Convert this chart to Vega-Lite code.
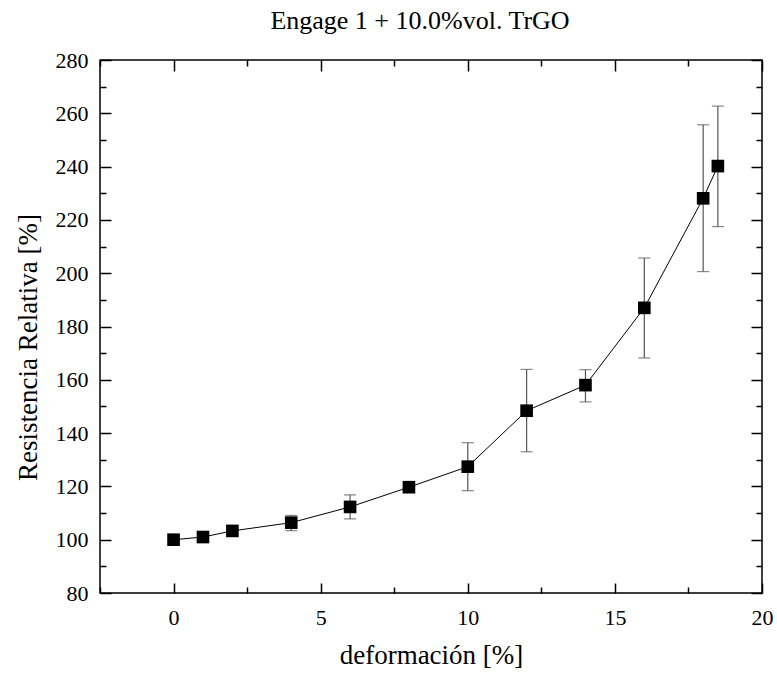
{
  "$schema": "https://vega.github.io/schema/vega-lite/v6.json",
  "width": 662,
  "height": 533,
  "autosize": "none",
  "padding": {"left": 100, "top": 60, "right": 15, "bottom": 86},
  "background": "white",
  "config": {
    "view": {"stroke": "black", "strokeWidth": 1.5},
    "font": "Liberation Serif",
    "axis": {"grid": false, "domain": false, "tickColor": "black", "tickWidth": 1.5, "labelColor": "black", "titleColor": "black", "labelFont": "Liberation Serif", "titleFont": "Liberation Serif", "labelFontSize": 22, "titleFontSize": 27, "titleFontWeight": "normal", "labelFlush": false}
  },
  "title": {"text": "Engage 1 + 10.0%vol. TrGO", "font": "Liberation Serif", "fontSize": 26, "fontWeight": "normal", "color": "black", "offset": 15, "dx": -11},
  "data": {"values": [
    {"x": 0, "y": 100, "lo": null, "hi": null},
    {"x": 1, "y": 101, "lo": null, "hi": null},
    {"x": 2, "y": 103.3, "lo": null, "hi": null},
    {"x": 4, "y": 106.4, "lo": 103.4, "hi": 109.1},
    {"x": 6, "y": 112.3, "lo": 107.8, "hi": 116.8},
    {"x": 8, "y": 119.7, "lo": null, "hi": null},
    {"x": 10, "y": 127.4, "lo": 118.4, "hi": 136.4},
    {"x": 12, "y": 148.4, "lo": 133.0, "hi": 163.9},
    {"x": 14, "y": 158.0, "lo": 151.7, "hi": 163.8},
    {"x": 16, "y": 187.0, "lo": 168.2, "hi": 205.7},
    {"x": 18, "y": 228.1, "lo": 200.6, "hi": 255.7},
    {"x": 18.5, "y": 240.2, "lo": 217.5, "hi": 262.7}
  ]},
  "resolve": {"axis": {"x": "independent", "y": "independent"}},
  "layer": [
    {
      "mark": {"type": "point", "opacity": 0},
      "encoding": {
        "x": {"field": "x", "type": "quantitative", "scale": {"domain": [-2.5, 20], "nice": false, "zero": false},
              "axis": {"orient": "bottom", "values": [0, 5, 10, 15, 20], "tickSize": -10, "labelPadding": 24, "title": "deformación [%]", "titlePadding": 14}},
        "y": {"field": "y", "type": "quantitative", "scale": {"domain": [80, 280], "nice": false, "zero": false},
              "axis": {"orient": "left", "values": [80, 100, 120, 140, 160, 180, 200, 220, 240, 260, 280], "tickSize": -11, "labelPadding": 23, "title": "Resistencia Relativa [%]", "titleX": -64, "titleY": 287, "titleBaseline": "alphabetic", "titleAngle": -90}}
      }
    },
    {
      "mark": {"type": "point", "opacity": 0},
      "encoding": {
        "x": {"field": "x", "type": "quantitative", "axis": {"orient": "bottom", "values": [-2.5, 2.5, 7.5, 12.5, 17.5], "tickSize": -6, "labels": false, "title": null}},
        "y": {"field": "y", "type": "quantitative", "axis": {"orient": "left", "values": [90, 110, 130, 150, 170, 190, 210, 230, 250, 270], "tickSize": -6, "labels": false, "title": null}}
      }
    },
    {
      "mark": {"type": "point", "opacity": 0},
      "encoding": {
        "x": {"field": "x", "type": "quantitative", "axis": {"orient": "top", "values": [0, 5, 10, 15, 20], "tickSize": -11, "labels": false, "title": null}},
        "y": {"field": "y", "type": "quantitative", "axis": {"orient": "right", "values": [80, 100, 120, 140, 160, 180, 200, 220, 240, 260, 280], "tickSize": -11, "labels": false, "title": null}}
      }
    },
    {
      "mark": {"type": "point", "opacity": 0},
      "encoding": {
        "x": {"field": "x", "type": "quantitative", "axis": {"orient": "top", "values": [-2.5, 2.5, 7.5, 12.5, 17.5], "tickSize": -6, "labels": false, "title": null}},
        "y": {"field": "y", "type": "quantitative", "axis": {"orient": "right", "values": [90, 110, 130, 150, 170, 190, 210, 230, 250, 270], "tickSize": -6, "labels": false, "title": null}}
      }
    },
    {
      "transform": [{"filter": "datum.lo != null"}],
      "mark": {"type": "rule", "color": "#555555", "strokeWidth": 1.2},
      "encoding": {
        "x": {"field": "x", "type": "quantitative", "axis": null},
        "y": {"field": "lo", "type": "quantitative", "axis": null},
        "y2": {"field": "hi"}
      }
    },
    {
      "transform": [{"filter": "datum.lo != null"}],
      "mark": {"type": "tick", "orient": "horizontal", "color": "#555555", "size": 12, "thickness": 1.2},
      "encoding": {
        "x": {"field": "x", "type": "quantitative", "axis": null},
        "y": {"field": "lo", "type": "quantitative", "axis": null}
      }
    },
    {
      "transform": [{"filter": "datum.lo != null"}],
      "mark": {"type": "tick", "orient": "horizontal", "color": "#555555", "size": 12, "thickness": 1.2},
      "encoding": {
        "x": {"field": "x", "type": "quantitative", "axis": null},
        "y": {"field": "hi", "type": "quantitative", "axis": null}
      }
    },
    {
      "mark": {"type": "line", "color": "black", "strokeWidth": 1},
      "encoding": {
        "x": {"field": "x", "type": "quantitative", "axis": null},
        "y": {"field": "y", "type": "quantitative", "axis": null}
      }
    },
    {
      "mark": {"type": "square", "color": "black", "filled": true, "opacity": 1, "size": 160},
      "encoding": {
        "x": {"field": "x", "type": "quantitative", "axis": null},
        "y": {"field": "y", "type": "quantitative", "axis": null}
      }
    }
  ]
}
